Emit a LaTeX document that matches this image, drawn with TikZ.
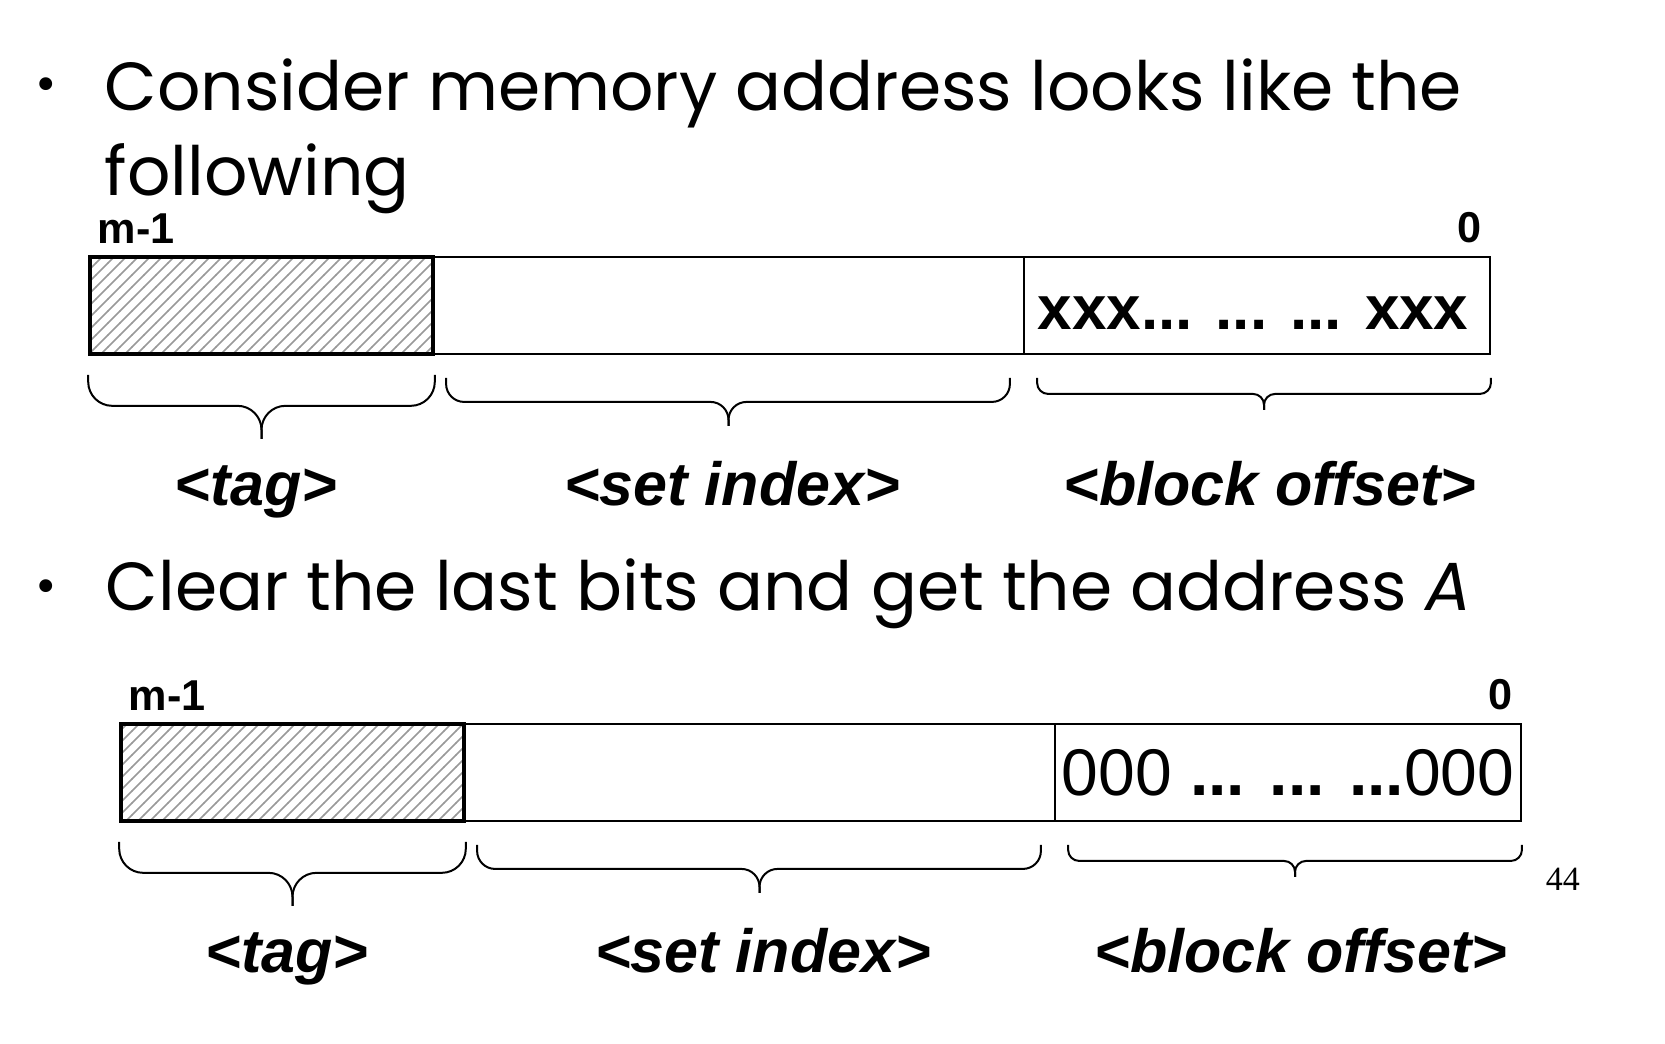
\documentclass[tikz,border=0pt]{standalone}
\usepackage{fontspec}
\setmainfont{Poppins}
\setsansfont{Liberation Sans}
\newfontfamily\pagenofont{Liberation Serif}
\usetikzlibrary{patterns,fit}

\tikzset{
  field/.style={draw, line width=0.45pt, inner sep=0pt},
  tagfield/.style={field, line width=0.9pt, pattern=north east lines, pattern color=black!40},
  brc/.style={rounded corners=#1, line width=0.5pt},
  lbl/.style={font=\sffamily\bfseries\itshape\fontsize{15.25}{18}\selectfont, inner sep=0pt, anchor=base},
  bitno/.style={font=\sffamily\bfseries\fontsize{10.8}{12}\selectfont, inner sep=0pt},
  slide/.style={font=\fontsize{17}{20}\selectfont, inner sep=0pt, anchor=base west},
  dotmark/.style={font=\fontsize{13}{15}\selectfont, inner sep=0pt},
}

\begin{document}
\begin{tikzpicture}[x=0.25pt, y=-0.25pt]
\useasboundingbox (0,0) rectangle (1665,1043);

% first point
\node[dotmark] (dot1) at (46,90) {\textbullet};
\node[slide] (line1) at (104,110) {Consider memory address looks like the};
\node[slide] (line2) at (104,195) {following};

% address as it is
\node[field, fit={(433,257) (1024,354)}] (set1) {};
\node[field, fit={(1024,257) (1490,354)}] (off1) {};
\node[tagfield, fit={(90,257) (433,354)}] (tag1) {};
\node[bitno, anchor=base west] (hi1) at (97,243) {m-1};
\node[bitno, anchor=base east] (lo1) at (1482,242) {0};
\node[font=\sffamily\bfseries\fontsize{15.5}{18}\selectfont, inner sep=0pt, anchor=base] (bits1) at (1253,329) {xxx... ... ... xxx};

\draw[brc=6pt] ([yshift=-4.75pt]tag1.south west) |- ([yshift=-12.5pt]tag1.south) -- ([yshift=-20.75pt]tag1.south);
\draw[brc=6pt] ([yshift=-4.75pt]tag1.south east) |- ([yshift=-12.5pt]tag1.south) -- ([yshift=-20.75pt]tag1.south);
\draw[brc=4.5pt] ([xshift=3.5pt,yshift=-5.75pt]set1.south west) |- ([yshift=-11.75pt]set1.south) -- ([yshift=-17.75pt]set1.south);
\draw[brc=4.5pt] ([xshift=-3.75pt,yshift=-5.75pt]set1.south east) |- ([yshift=-11.75pt]set1.south) -- ([yshift=-17.75pt]set1.south);
\draw[brc=2.75pt] ([xshift=3.5pt,yshift=-5.75pt]off1.south west) |- ([xshift=1.75pt,yshift=-9.75pt]off1.south) -- ([xshift=1.75pt,yshift=-13.75pt]off1.south);
\draw[brc=2.75pt] ([yshift=-5.75pt]off1.south east) |- ([xshift=1.75pt,yshift=-9.75pt]off1.south) -- ([xshift=1.75pt,yshift=-13.75pt]off1.south);

\node[lbl] (tagname1) at (256,505) {<tag>};
\node[lbl] (setname1) at (732,505) {<set index>};
\node[lbl] (offname1) at (1270,505) {<block offset>};

% second point
\node[dotmark] (dot2) at (46,592) {\textbullet};
\node[slide] (line3) at (105,610) {Clear the last bits and get the address \textit{A}};

% address with cleared offset
\node[field, fit={(464,724) (1055,821)}] (set2) {};
\node[field, fit={(1055,724) (1521,821)}] (off2) {};
\node[tagfield, fit={(121,724) (464,821)}] (tag2) {};
\node[bitno, anchor=base west] (hi2) at (128,710) {m-1};
\node[bitno, anchor=base east] (lo2) at (1513,709) {0};
\node[font=\sffamily\fontsize{16.5}{19}\selectfont, inner sep=0pt, anchor=base] (bits2) at (1288,795) {000 \textbf{... ... ...}000};

\draw[brc=6pt] ([yshift=-4.75pt]tag2.south west) |- ([yshift=-12.5pt]tag2.south) -- ([yshift=-20.75pt]tag2.south);
\draw[brc=6pt] ([yshift=-4.75pt]tag2.south east) |- ([yshift=-12.5pt]tag2.south) -- ([yshift=-20.75pt]tag2.south);
\draw[brc=4.5pt] ([xshift=3.5pt,yshift=-5.75pt]set2.south west) |- ([yshift=-11.75pt]set2.south) -- ([yshift=-17.75pt]set2.south);
\draw[brc=4.5pt] ([xshift=-3.75pt,yshift=-5.75pt]set2.south east) |- ([yshift=-11.75pt]set2.south) -- ([yshift=-17.75pt]set2.south);
\draw[brc=2.75pt] ([xshift=3.5pt,yshift=-5.75pt]off2.south west) |- ([xshift=1.75pt,yshift=-9.75pt]off2.south) -- ([xshift=1.75pt,yshift=-13.75pt]off2.south);
\draw[brc=2.75pt] ([yshift=-5.75pt]off2.south east) |- ([xshift=1.75pt,yshift=-9.75pt]off2.south) -- ([xshift=1.75pt,yshift=-13.75pt]off2.south);

\node[lbl] (tagname2) at (287,972) {<tag>};
\node[lbl] (setname2) at (763,972) {<set index>};
\node[lbl] (offname2) at (1301,972) {<block offset>};

\node[font=\pagenofont\fontsize{8.5}{10}\selectfont, inner sep=0pt, anchor=base west] (pageno) at (1545,890) {44};
\end{tikzpicture}
\end{document}
